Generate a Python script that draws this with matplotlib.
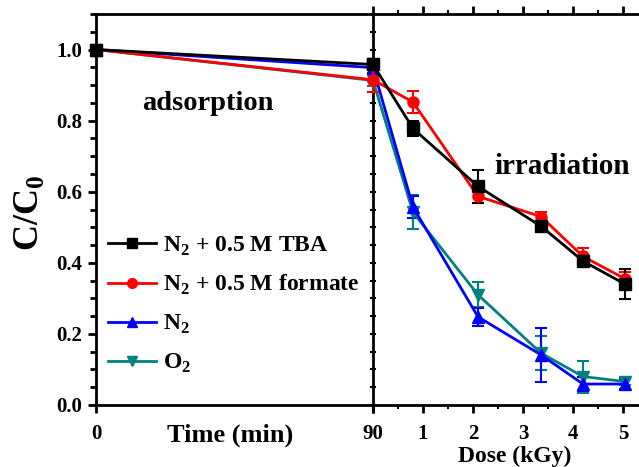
import matplotlib.pyplot as plt
import matplotlib.ticker as mt
import numpy as np

plt.rcParams['font.family'] = 'Liberation Serif'
plt.rcParams['font.weight'] = 'bold'
plt.rcParams['mathtext.fontset'] = 'custom'
plt.rcParams['mathtext.rm'] = 'Liberation Serif:bold'
plt.rcParams['mathtext.bf'] = 'Liberation Serif:bold'

# adsorption stage (time, min)
time = [0, 90]
tba_ads = [1.0, 0.958]
formate_ads = [1.0, 0.915]
n2_ads = [1.0, 0.949]
o2_ads = [1.0, 0.913]

# irradiation stage (dose, kGy); first point = end of adsorption
dose = [0, 0.8, 2.1, 3.36, 4.2, 5.04]
tba = [0.958, 0.778, 0.615, 0.503, 0.405, 0.340]
tba_err = [0.010, 0.022, 0.047, 0.010, 0.015, 0.042]
formate = [0.915, 0.852, 0.587, 0.530, 0.418, 0.355]
formate_err = [0.035, 0.030, 0.020, 0.012, 0.025, 0.020]
n2 = [0.949, 0.557, 0.248, 0.141, 0.059, 0.059]
n2_err = [0.015, 0.030, 0.025, 0.075, 0.020, 0.015]
o2 = [0.913, 0.542, 0.310, 0.146, 0.080, 0.066]
o2_err = [0.015, 0.048, 0.035, 0.048, 0.045, 0.010]

labels = ['N$_2$ + 0.5 M TBA', 'N$_2$ + 0.5 M formate', 'N$_2$', 'O$_2$']
colors = ['black', '#ff0000', '#0000ff', '#008080']
markers = ['s', 'o', '^', 'v']

fig = plt.figure(figsize=(6.39, 4.67), dpi=100)
ax1 = fig.add_axes([96/639, 62/467, 277/639, 391/467])
ax2 = fig.add_axes([373/639, 62/467, 266/639, 391/467], sharey=ax1)

ads = [tba_ads, formate_ads, n2_ads, o2_ads]
irr = [tba, formate, n2, o2]
errs = [tba_err, formate_err, n2_err, o2_err]
handles = []
for i in range(4):
    ax1.plot(time, ads[i], color=colors[i], marker=markers[i], ms=8, lw=2,
             clip_on=False, zorder=5 - i * 0.1)
    ax2.errorbar(dose, irr[i], yerr=errs[i], color=colors[i], marker=markers[i],
                 ms=8, lw=2, elinewidth=1.5, capsize=4, capthick=1.5,
                 clip_on=False, zorder=5 - i * 0.1)
    handles.append(ax1.plot([], [], color=colors[i], marker=markers[i], ms=7, lw=2)[0])

ax1.set_xlim(0, 90)
ax1.set_ylim(0, 1.1)
ax1.set_xticks([0, 90])
ax1.set_xticklabels(['0', ''])
ax1.set_yticks(np.arange(0, 1.01, 0.2))
ax1.yaxis.set_major_formatter(mt.FormatStrFormatter('%.1f'))
ax1.yaxis.set_minor_locator(mt.MultipleLocator(0.1))
ax1.xaxis.set_minor_locator(mt.MultipleLocator(45))
ax1.spines['right'].set_visible(False)
for s in ax1.spines.values():
    s.set_linewidth(2)
ax1.tick_params(axis='both', which='major', length=6, width=2, labelsize=15, pad=8)
ax1.tick_params(axis='y', which='minor', length=4, width=2)
ax1.tick_params(axis='x', which='minor', length=0)
ax1.tick_params(axis='x', which='both', top=True)
ax1.tick_params(axis='x', which='major', top=False)
ax1.tick_params(axis='y', pad=4)

ax2.set_xlim(0, 5.32)
ax2.set_xticks([0, 1, 2, 3, 4, 5])
ax2.set_xticklabels(['90', '1', '2', '3', '4', '5'])
ax2.xaxis.set_minor_locator(mt.MultipleLocator(0.5))
ax2.yaxis.set_minor_locator(mt.MultipleLocator(0.05))
ax2.spines['right'].set_visible(False)
for s in ax2.spines.values():
    s.set_linewidth(2)
ax2.tick_params(axis='y', which='both', labelleft=False, direction='inout', length=4, width=1.5)
ax2.tick_params(axis='x', which='major', length=6, width=2, labelsize=15, pad=8)
ax2.tick_params(axis='x', which='minor', length=3, width=1.5)
ax2.tick_params(axis='x', which='both', top=True, labeltop=False)

fig.text(29/639, 1 - 213/467, 'C/C$_0$', rotation=90, ha='center', va='center',
         fontsize=26, fontweight='bold')
fig.text(230/639, 1 - 435/467, 'Time (min)', ha='center', va='center',
         fontsize=19, fontweight='bold')
fig.text(515/639, 1 - 456/467, 'Dose (kGy)', ha='center', va='center',
         fontsize=17, fontweight='bold')
fig.text(208/639, 1 - 104/467, 'adsorption', ha='center', va='center',
         fontsize=20.5, fontweight='bold')
fig.text(562/639, 1 - 167/467, 'irradiation', ha='center', va='center',
         fontsize=21, fontweight='bold')

fig.legend(handles, labels, loc='upper left', bbox_to_anchor=(99/639, 1 - 225/467),
           frameon=False, fontsize=17, handlelength=2.0, handletextpad=0.3,
           labelspacing=0.66, borderaxespad=0)

fig.savefig('out.png', dpi=100)
